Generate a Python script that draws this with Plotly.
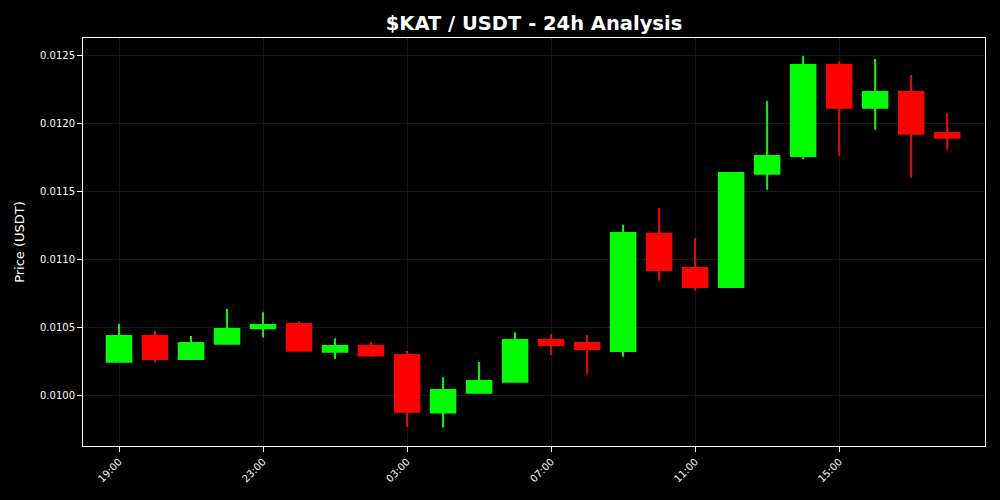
import plotly.graph_objects as go
import pandas as pd

times = pd.date_range("2024-01-01 19:00", periods=24, freq="h")
opens = [0.010251, 0.010440, 0.010271, 0.010383, 0.010496, 0.010528, 0.010325, 0.010367,
         0.010301, 0.009878, 0.010024, 0.010105, 0.010411, 0.010389, 0.010330, 0.011190,
         0.010938, 0.010799, 0.011630, 0.011760, 0.012427, 0.012114, 0.012229, 0.011928]
highs = [0.010528, 0.010477, 0.010440, 0.010638, 0.010614, 0.010548, 0.010423, 0.010396,
         0.010330, 0.010137, 0.010249, 0.010467, 0.010455, 0.010447, 0.011256, 0.011378,
         0.011158, 0.011642, 0.012163, 0.012493, 0.012454, 0.012471, 0.012353, 0.012075]
lows = [0.010244, 0.010244, 0.010271, 0.010383, 0.010428, 0.010325, 0.010271, 0.010288,
        0.009775, 0.009768, 0.010017, 0.010098, 0.010301, 0.010163, 0.010288, 0.010845,
        0.010772, 0.010792, 0.011513, 0.011735, 0.011762, 0.011952, 0.011600, 0.011806]
closes = [0.010440, 0.010271, 0.010389, 0.010491, 0.010521, 0.010332, 0.010367, 0.010296,
          0.009885, 0.010044, 0.010110, 0.010411, 0.010374, 0.010345, 0.011195, 0.010924,
          0.010799, 0.011635, 0.011760, 0.012427, 0.012114, 0.012229, 0.011923, 0.011894]

tick_vals = pd.date_range("2024-01-01 19:00", periods=6, freq="4h")
tick_text = [t.strftime("%H:%M") for t in tick_vals]
y_ticks = [0.0100, 0.0105, 0.0110, 0.0115, 0.0120, 0.0125]

fig = go.Figure(go.Candlestick(
    x=times, open=opens, high=highs, low=lows, close=closes,
    increasing=dict(line=dict(color="#00ff00", width=2), fillcolor="#00ff00"),
    decreasing=dict(line=dict(color="#ff0000", width=2), fillcolor="#ff0000"),
    whiskerwidth=0, showlegend=False,
))

font = "DejaVu Sans, sans-serif"
fig.update_layout(
    width=1000, height=500,
    paper_bgcolor="#000000", plot_bgcolor="#000000",
    margin=dict(l=83, r=15, t=38, b=54),
    font=dict(family=font, color="#ffffff", size=10),
    title=dict(text="<b>$KAT / USDT - 24h Analysis</b>", x=0.534, xanchor="center",
               y=0.953, yanchor="middle", font=dict(size=19.5, color="#ffffff", family=font)),
    showlegend=False,
    boxgap=0.32, boxgroupgap=0,
)
fig.update_xaxes(
    rangeslider_visible=False,
    range=[pd.Timestamp("2024-01-01 18:00"), pd.Timestamp("2024-01-02 19:03")],
    tickvals=tick_vals, ticktext=tick_text, tickangle=-45,
    showline=True, linecolor="#ffffff", linewidth=1, mirror=True,
    ticks="outside", tickcolor="#ffffff", ticklen=5,
    showgrid=True, gridcolor="#181818", gridwidth=1, zeroline=False,
    tickfont=dict(size=10, color="#ffffff"),
)
fig.update_yaxes(
    range=[0.009633, 0.012625],
    tickvals=y_ticks, tickformat=".4f",
    title=dict(text="Price (USDT)", font=dict(size=13, color="#ffffff"), standoff=12),
    showline=True, linecolor="#ffffff", linewidth=1, mirror=True,
    ticks="outside", tickcolor="#ffffff", ticklen=5,
    showgrid=True, gridcolor="#181818", gridwidth=1, zeroline=False,
    tickfont=dict(size=10, color="#ffffff"),
)

fig.write_html(
    "out.html",
    config={"displayModeBar": False},
    post_script="document.body.style.margin='0';document.body.style.background='#000000';",
)
